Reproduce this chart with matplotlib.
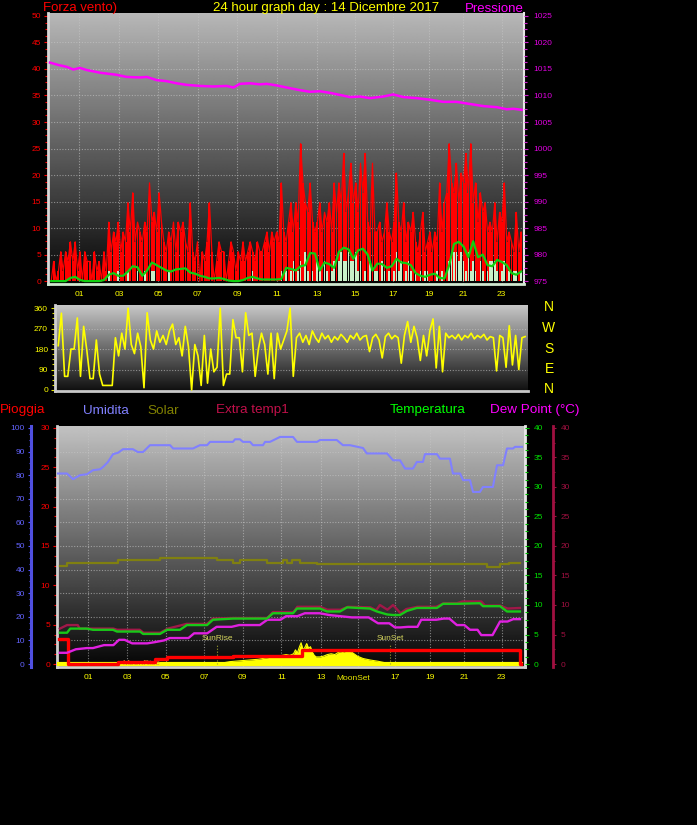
import numpy as np
import matplotlib
matplotlib.use('Agg')
import matplotlib.pyplot as plt
from matplotlib.ticker import MultipleLocator
import matplotlib.transforms as mtransforms

plt.rcParams['font.family'] = ['Liberation Sans', 'DejaVu Sans']

# ---------------------------------------------------------------- data
KN_TO_KMH = 1.852

HOUR_TICKS = [0.95, 3.05, 5.08, 7.14, 9.19, 11.25, 13.38, 15.33, 17.33, 19.19, 20.99, 22.98]
HOUR_LABELS = ['01', '03', '05', '07', '09', '11', '13', '15', '17', '19', '21', '23']
HOUR_LABELS_BOTTOM = ['01', '03', '05', '07', '09', '11', '13', '', '17', '19', '21', '23']

# wind gust (knots), 8 samples per hour starting at -0.5 h
GUST_KN = [
    0, 2, 0, 1, 3, 1, 3, 2,
    4, 2, 4, 1, 3, 0, 3, 2,
    2, 0, 3, 1, 2, 0, 3, 1,
    6, 3, 5, 4, 6, 3, 5, 4,
    8, 5, 9, 4, 6, 5, 4, 6,
    5, 10, 6, 7, 5, 9, 6, 4,
    3, 5, 4, 6, 3, 6, 5, 6,
    4, 3, 8, 3, 2, 4, 0, 3,
    2, 4, 8, 3, 0, 2, 4, 3,
    3, 0, 2, 4, 3, 1, 3, 2,
    4, 2, 3, 4, 3, 2, 4, 3,
    3, 4, 5, 3, 5, 4, 5, 4,
    10, 5, 4, 6, 8, 5, 8, 6,
    14, 10, 8, 7, 10, 6, 5, 6,
    8, 5, 7, 6, 8, 5, 10, 7,
    10, 8, 13, 7, 9, 12, 8, 10,
    7, 12, 9, 13, 6, 5, 12, 5,
    5, 6, 4, 5, 8, 5, 4, 6,
    11, 6, 5, 8, 4, 6, 5, 7,
    4, 3, 5, 7, 3, 4, 5, 3,
    5, 4, 10, 5, 8, 9, 14, 10,
    9, 12, 8, 11, 10, 13, 9, 14,
    8, 10, 6, 9, 7, 8, 5, 6,
    5, 8, 4, 7, 6, 10, 4, 5,
    4, 3, 7, 3, 5]

# wind speed (knots), same sampling
SPEED_KN = [
    0, 0, 0, 0, 0, 0, 0, 0,
    0, 0, 0, 0, 0, 0, 0, 0,
    0, 0, 0, 0, 0, 0, 0, 0,
    1, 0, 0, 0, 1, 0, 0, 0,
    1, 0, 0, 0, 1, 0, 0, 1,
    0, 0, 1, 1, 0, 0, 0, 0,
    0, 1, 0, 0, 0, 0, 0, 0,
    0, 0, 0, 0, 0, 0, 0, 0,
    0, 0, 0, 0, 0, 0, 0, 0,
    0, 0, 0, 0, 0, 0, 0, 0,
    0, 0, 0, 0, 1, 0, 0, 0,
    0, 0, 0, 0, 0, 0, 0, 0,
    1, 0, 1, 0, 1, 2, 0, 1,
    2, 0, 3, 1, 0, 1, 0, 2,
    1, 0, 2, 1, 0, 1, 2, 0,
    2, 3, 2, 2, 3, 2, 2, 3,
    1, 2, 0, 1, 0, 2, 0, 1,
    1, 0, 2, 1, 0, 1, 0, 1,
    3, 1, 2, 0, 1, 2, 1, 0,
    1, 0, 1, 0, 1, 1, 0, 0,
    0, 1, 0, 1, 0, 0, 2, 3,
    3, 3, 2, 3, 2, 1, 3, 1,
    2, 1, 0, 2, 1, 0, 1, 2,
    2, 2, 1, 0, 1, 2, 0, 1,
    0, 1, 1, 0, 1]

# average wind (km/h), 4 samples per hour starting at -0.5 h
AVG_KMH = [
    0, 0, 0, 0, 0.6, 0.8, 0.2, 0, 0, 0,
    0, 0.2, 1.2, 1.5, 1.0, 1.0, 1.8, 2.8, 2.6, 1.0,
    2.0, 3.5, 3.0, 2.5, 2.0, 1.8, 2.2, 2.3, 2.4, 1.6,
    1.4, 1.0, 0.8, 0.5, 0.5, 0.6, 0.4, 0.1, 0, 0,
    0.2, 0.6, 0.8, 0.5, 0.3, 0.3, 0.3, 0.3, 0.4, 2.5,
    2.3, 2.0, 2.8, 3.0, 5.3, 5.2, 2.0, 3.5, 3.2, 2.5,
    5.5, 6.3, 6.0, 4.2, 5.8, 6.1, 5.0, 2.0, 3.3, 3.2,
    2.5, 2.8, 4.2, 3.5, 3.4, 3.0, 1.5, 1.0, 0.8, 1.2,
    1.4, 0.6, 0.5, 3.0, 7.0, 7.4, 6.5, 4.5, 7.5, 4.5,
    5.0, 3.0, 2.8, 4.0, 3.6, 3.0, 1.5, 1.2, 1.8]

PRESS_HOURS = [-0.56, -0.13, 0.31, 0.65, 1.0, 1.35, 2.04, 2.91, 3.43, 4.13,
               4.48, 5.0, 5.52, 6.04, 6.56, 7.26, 7.95, 8.65, 9.0, 9.34,
               9.86, 10.38, 10.73, 11.25, 11.78, 12.47, 12.99, 13.51, 14.03, 14.56,
               15.08, 15.6, 16.12, 16.81, 17.33, 17.86, 18.55, 19.25, 19.94, 20.64,
               21.33, 22.03, 22.72, 23.25, 23.59, 24.03]
PRESS_HPA = [1016.2, 1015.75, 1015.4, 1014.9, 1015.2, 1014.8, 1014.3, 1013.9, 1013.5, 1013.4,
             1013.5, 1012.9, 1012.7, 1012.3, 1012.0, 1011.8, 1011.7, 1011.8, 1011.5, 1012.2,
             1012.3, 1012.1, 1012.2, 1011.9, 1011.5, 1011.0, 1010.7, 1010.8, 1010.5, 1010.1,
             1009.7, 1009.8, 1009.5, 1009.8, 1010.2, 1009.7, 1009.5, 1009.2, 1008.8, 1008.8,
             1008.4, 1008.0, 1007.8, 1007.4, 1007.5, 1007.3]

# wind direction (degrees), 6 samples per hour starting at -0.5 h
DIR_DEG = [
    195, 338, 60, 60, 180, 180,
    317, 60, 280, 175, 50, 50,
    220, 70, 20, 20, 20, 20,
    230, 150, 250, 180, 360, 200,
    160, 250, 190, 10, 340, 220,
    180, 260, 210, 240, 200, 260,
    290, 200, 230, 150, 280, 190,
    0, 200, 150, 20, 240, 30,
    180, 80, 100, 360, 20, 70,
    70, 310, 230, 230, 80, 340,
    240, 250, 60, 180, 250, 200,
    70, 250, 50, 250, 180, 220,
    260, 360, 60, 230, 250, 210,
    240, 200, 260, 230, 210, 250,
    225, 240, 210, 235, 220, 245,
    230, 210, 240, 225, 250, 220,
    235, 240, 169, 230, 245, 220,
    141, 235, 250, 225, 240, 230,
    118, 240, 301, 210, 280, 230,
    130, 240, 150, 260, 313, 97,
    280, 80, 250, 230, 240, 225,
    245, 220, 240, 230, 250, 225,
    240, 230, 245, 220, 235, 230,
    84, 240, 230, 100, 283, 110,
    240, 90, 230, 235]

HUM_HOURS = [-0.65, -0.17, 0.15, 0.52, 0.89, 1.21, 1.59, 1.75, 2.0, 2.28,
             2.55, 2.81, 3.34, 3.6, 3.88, 4.25, 5.32, 5.48, 6.54, 6.91,
             7.29, 7.45, 8.67, 8.78, 9.04, 9.2, 9.58, 9.74, 10.27, 10.38,
             10.64, 11.18, 11.87, 12.08, 13.15, 13.31, 14.2, 14.53, 14.9, 15.6,
             15.8, 16.88, 17.2, 17.57, 17.84, 18.26, 18.47, 18.79, 18.9, 19.54,
             19.7, 20.23, 20.39, 20.77, 20.93, 21.3, 21.46, 21.83, 21.99, 22.52,
             22.74, 23.06, 23.27, 23.59, 23.7, 24.07]
HUM_PCT = [80.7, 80.7, 78.3, 80.0, 80.4, 82.1, 82.5, 83.5, 85.5, 88.9,
           89.5, 91, 91, 89.8, 89.8, 92.7, 92.7, 91.3, 91.3, 92.7,
           92.7, 94.1, 94.1, 95.2, 95.2, 94.1, 94.1, 92.7, 92.7, 94.1,
           94.1, 96.2, 96.2, 94.1, 94.1, 94.9, 94.9, 92.7, 92.7, 91.5,
           89.2, 89.2, 86.3, 86.3, 82.8, 82.8, 85.6, 85.6, 88.9, 88.9,
           87, 87, 80.7, 80.7, 77.9, 77.9, 72.9, 72.9, 75, 75,
           84.2, 84.2, 91.3, 91.3, 92, 92]

TEMP_HOURS = [-0.55, -0.17, 0.0, 0.89, 1.21, 2.28, 2.49, 3.72, 3.88, 4.78,
              5.16, 5.85, 6.22, 7.29, 7.6, 8.67, 10.48, 10.8, 11.87, 12.08,
              13.31, 13.68, 14.37, 14.75, 15.97, 16.34, 16.88, 17.2, 17.57, 17.94,
              18.47, 19.54, 19.86, 20.6, 21.83, 21.99, 22.9, 23.27, 23.96]
TEMP_C = [5.3, 5.3, 6.0, 6.0, 5.8, 5.8, 5.5, 5.5, 5.1, 5.1,
          5.8, 5.8, 6.6, 6.6, 7.5, 7.7, 7.7, 8.6, 8.6, 9.4,
          9.4, 8.9, 8.9, 9.6, 9.4, 8.9, 8.4, 8.3, 8.3, 9.0,
          9.5, 9.5, 10.2, 10.2, 10.3, 9.8, 9.8, 8.9, 8.9]

EXTRA_HOURS = [-0.55, -0.17, 0.4, 0.5, 2.3, 2.5, 3.7, 3.9, 4.8, 5.2,
               6.2, 7.3, 7.6, 8.7, 10.5, 10.8, 11.9, 12.1, 13.3, 13.7,
               14.4, 14.8, 16.0, 16.3, 16.5, 16.9, 17.2, 17.6, 17.9, 18.5,
               19.5, 19.9, 20.6, 20.9, 21.9, 22.1, 22.9, 23.3, 23.96]
EXTRA_C = [6.0, 6.6, 6.6, 6.0, 6.0, 5.8, 5.8, 5.3, 5.3, 6.0,
           6.8, 6.8, 7.7, 7.8, 7.8, 8.8, 8.8, 9.7, 9.7, 9.2,
           9.2, 9.7, 9.6, 9.1, 10.0, 9.2, 10.0, 8.6, 9.3, 9.7,
           9.7, 10.3, 10.3, 10.6, 10.6, 9.9, 9.9, 9.4, 9.5]

DEW_HOURS = [-0.55, -0.17, 0.3, 0.89, 1.21, 1.8, 2.3, 2.6, 2.9, 3.3,
             4.1, 4.5, 5.0, 5.3, 6.3, 6.6, 7.3, 7.8, 8.6, 9.0,
             10.1, 10.5, 11.2, 11.5, 12.1, 12.5, 13.3, 13.8, 14.4, 15.0,
             15.9, 16.4, 17.0, 17.3, 17.6, 18.0, 18.5, 18.7, 19.5, 19.9,
             20.2, 20.6, 21.0, 21.3, 21.7, 21.9, 22.5, 22.9, 23.3, 23.6, 23.96]
DEW_C = [1.9, 1.9, 2.5, 2.7, 2.7, 3.2, 3.2, 4.1, 4.1, 3.5,
         3.5, 3.7, 4.0, 4.4, 4.4, 5.2, 5.2, 6.3, 6.3, 6.6,
         6.6, 7.5, 7.5, 8.1, 8.1, 8.6, 8.6, 8.3, 8.1, 7.9,
         7.9, 6.9, 6.9, 6.2, 6.2, 6.3, 6.3, 7.5, 7.5, 7.7,
         7.7, 6.6, 6.6, 5.8, 5.8, 4.9, 4.9, 7.2, 7.2, 7.6, 7.6]

SOLARLINE_HOURS = [-0.55, -0.17, 0.89, 2.55, 4.78, 7.82, 8.67, 9.04, 10.48, 11.34,
                   11.55, 11.8, 12.24, 13.15, 22.2, 22.9, 23.4, 23.96]
SOLARLINE_VAL = [41.5, 42.6, 43.0, 44.0, 45.0, 44.0, 43.0, 44.0, 43.0, 44.0,
                 43.0, 44.0, 43.0, 42.2, 41.2, 42.2, 42.9, 42.9]

RAIN_HOURS = [-0.6, -0.12, 2.55, 4.52, 5.16, 8.67, 12.35, 23.96, 24.0]
RAIN_MM = [3.2, 0.0, 0.3, 0.6, 0.85, 1.06, 1.8, 0.0, 0.0]

SUN_HOURS = [-0.6, 7.8, 8.5, 9.0, 9.5, 10.0, 10.5, 11.0, 11.3, 11.5,
             11.7, 11.9, 12.0, 12.1, 12.2, 12.3, 12.4, 12.5, 12.6, 12.7,
             12.8, 12.9, 13.0, 13.1, 13.3, 13.5, 13.7, 13.9, 14.1, 14.3,
             14.5, 14.6, 14.7, 14.8, 15.0, 15.3, 15.6, 16.0, 16.4, 16.7,
             17.0, 24.0]
SUN_VAL = [0, 0, 0.3, 0.4, 0.5, 0.6, 0.8, 1.0, 1.1, 1.2,
           1.1, 1.3, 1.8, 1.4, 2.1, 2.7, 1.8, 2.1, 2.6, 2.0,
           2.2, 1.5, 1.1, 0.9, 0.9, 1.0, 1.2, 1.3, 1.2, 1.5,
           1.6, 1.5, 1.8, 1.7, 1.5, 1.0, 0.7, 0.5, 0.35, 0.2,
           0, 0]

SUNRISE_H, SUNSET_H = 7.82, 17.04
MOONRISE_H, MOONSET_H = 3.77, 15.09

# ---------------------------------------------------------------- figure
W, H = 697, 825
fig = plt.figure(figsize=(W / 100, H / 100), dpi=100, facecolor='black')


def add_axes_px(left, top, right, bottom):
    return fig.add_axes([left / W, 1 - bottom / H, (right - left) / W, (bottom - top) / H])


def gradient(ax, top, bot):
    g = np.linspace(top, bot, 256).reshape(-1, 1)
    x0, x1 = ax.get_xlim()
    y0, y1 = ax.get_ylim()
    ax.imshow(g, extent=(x0, x1, y0, y1), origin='upper', cmap='gray', vmin=0, vmax=1,
              aspect='auto', zorder=0, interpolation='bilinear')
    ax.set_xlim(x0, x1)
    ax.set_ylim(y0, y1)


def hide_spines(ax):
    for s in ax.spines.values():
        s.set_visible(False)


def figtext(px, py, s, color, size, ha='left'):
    fig.text(px / W, 1 - py / H, s, color=color, fontsize=size, ha=ha, va='baseline')


GRID_KW = dict(color='#c8c8c8', lw=0.8, ls=(0, (1, 1.5)), alpha=0.6, zorder=1)
TICK_SIZE = 6

# ---------------- panel 1 : wind + pressure
ax1 = add_axes_px(48, 13.3, 524, 284)
ax1.set_facecolor('black')
ax1.set_xlim(-0.668, 24.15)
ax1.set_ylim(-0.55, 50.5)
gradient(ax1, 0.72, 0.02)
for x in HOUR_TICKS:
    ax1.axvline(x, **GRID_KW)
for y in range(5, 50, 5):
    ax1.axhline(y, **GRID_KW)

t_g = -0.5 + 0.125 * np.arange(len(GUST_KN))
gust = np.array(GUST_KN) * KN_TO_KMH
speed = np.array(SPEED_KN) * KN_TO_KMH
ax1.bar(t_g, gust, width=0.1, color='#ff0000', lw=0, zorder=3)
ax1.plot(t_g, gust, color='#ff0000', lw=0.9, zorder=3)
ax1.bar(t_g, speed, width=0.09, color='#c8f0c8', lw=0, zorder=4)
t_a = -0.5 + 0.25 * np.arange(len(AVG_KMH))
ax1.plot(t_a, AVG_KMH, color='#10d010', lw=1.6, zorder=5)

ax1.yaxis.set_major_locator(MultipleLocator(5))
ax1.yaxis.set_minor_locator(MultipleLocator(1.25))
ax1.tick_params(axis='y', which='both', colors='#ff0000', labelsize=TICK_SIZE, pad=2, width=0.8)
ax1.tick_params(axis='y', which='major', length=3)
ax1.tick_params(axis='y', which='minor', length=2)
ax1.set_xticks(HOUR_TICKS, HOUR_LABELS)
ax1.tick_params(axis='x', length=0, pad=5, labelcolor='#ffff00', labelsize=TICK_SIZE)

ax1p = ax1.twinx()
ax1p.set_ylim(975 - 0.55, 975 + 50.5)
ax1p.plot(PRESS_HOURS, PRESS_HPA, color='#ff00ff', lw=1.8, zorder=6)
ax1p.yaxis.set_major_locator(MultipleLocator(5))
ax1p.yaxis.set_minor_locator(MultipleLocator(1.25))
ax1p.tick_params(axis='y', which='both', colors='#d020d0', labelcolor='#e000e0',
                 labelsize=TICK_SIZE, pad=4, width=0.8)
ax1p.tick_params(axis='y', which='major', length=3)
ax1p.tick_params(axis='y', which='minor', length=2)

hide_spines(ax1)
hide_spines(ax1p)
ax1.spines['left'].set_visible(True)
ax1.spines['left'].set_color('#d8d8d8')
ax1.spines['left'].set_linewidth(2)
ax1.spines['bottom'].set_visible(True)
ax1.spines['bottom'].set_color('#d0e8d0')
ax1.spines['bottom'].set_linewidth(2)
ax1.spines['right'].set_visible(True)
ax1.spines['right'].set_color('#e8e8e8')
ax1.spines['right'].set_linewidth(1.5)

figtext(43, 11.5, 'Forza vento)', '#ff0000', 9.5)
figtext(326, 11.5, '24 hour graph day : 14 Dicembre 2017', '#ffff00', 9.5, ha='center')
figtext(465, 11.5, 'Pressione', '#ff00ff', 9.5)

# ---------------- panel 2 : wind direction
ax2 = add_axes_px(55, 305, 528, 391)
ax2.set_facecolor('black')
ax2.set_xlim(-0.67, 24.15)
ax2.set_ylim(-4.5, 374)
gradient(ax2, 0.78, 0.06)
for y in (90, 180, 270):
    ax2.axhline(y, **GRID_KW)
t_d = -0.5 + np.arange(len(DIR_DEG)) / 6
ax2.plot(t_d, DIR_DEG, color='#ffff00', lw=1.2, zorder=3)
ax2.set_yticks([0, 90, 180, 270, 360])
ax2.yaxis.set_minor_locator(MultipleLocator(22.5))
ax2.tick_params(axis='y', which='both', colors='#e0e000', labelcolor='#ffff00',
                labelsize=TICK_SIZE, pad=2, width=0.8)
ax2.tick_params(axis='y', which='major', length=3)
ax2.tick_params(axis='y', which='minor', length=2)
ax2.set_xticks([])
hide_spines(ax2)
ax2.spines['left'].set_visible(True)
ax2.spines['left'].set_color('#d0d0d0')
ax2.spines['left'].set_linewidth(2)
ax2.spines['bottom'].set_visible(True)
ax2.spines['bottom'].set_color('#c8c8c8')
ax2.spines['bottom'].set_linewidth(2)

for letter, base in zip(['N', 'W', 'S', 'E', 'N'], [311, 332, 353, 373.5, 393]):
    figtext(549, base, letter, '#ffff00', 10, ha='center')

# ---------------- panel 3 : rain / humidity / temperatures
ax3 = add_axes_px(57, 426, 525, 667)
ax3.set_facecolor('black')
ax3.set_xlim(-0.705, 24.23)
ax3.set_ylim(-0.38, 30.25)
gradient(ax3, 0.76, 0.02)
for x in HOUR_TICKS:
    ax3.axvline(x, **GRID_KW)
for y in range(3, 30, 3):
    ax3.axhline(y, **GRID_KW)

# solar radiation area + baseline
ax3.fill_between(SUN_HOURS, 0, SUN_VAL, color='#ffff00', lw=0, zorder=3)
ax3.plot(SUN_HOURS, SUN_VAL, color='#ffff00', lw=0.8, zorder=3)
ax3.plot([SUN_HOURS[0], SUN_HOURS[-1]], [0, 0], color='#ffff00', lw=3, zorder=3)
# sunrise / sunset markers
for h, lab in ((SUNRISE_H, 'SunRise'), (SUNSET_H, 'SunSet')):
    ax3.plot([h, h], [0, 2.6], color='#a0a030', lw=0.8, ls=':', zorder=4)
    ax3.text(h, 3.05, lab, color='#d8d860', fontsize=6, ha='center', va='baseline', zorder=4)
ax3.text(MOONRISE_H, -0.15, 'MoonRise', color='#e09020', fontsize=6, ha='center',
         va='baseline', zorder=4)
# rain
ax3.plot(RAIN_HOURS, RAIN_MM, drawstyle='steps-post', color='#ff0000', lw=2.4, zorder=5)
trans = mtransforms.blended_transform_factory(ax3.transData, ax3.transAxes)
ax3.text(MOONSET_H, -13 / 241, 'MoonSet', color='#e8e800', fontsize=6, ha='center',
         va='baseline', transform=trans, clip_on=False)

ax3.yaxis.set_major_locator(MultipleLocator(5))
ax3.yaxis.set_minor_locator(MultipleLocator(1.25))
ax3.tick_params(axis='y', which='both', colors='#ff0000', labelsize=TICK_SIZE, pad=2, width=0.8)
ax3.tick_params(axis='y', which='major', length=3)
ax3.tick_params(axis='y', which='minor', length=2)
ax3.set_xticks(HOUR_TICKS, HOUR_LABELS_BOTTOM)
ax3.tick_params(axis='x', length=0, pad=5, labelcolor='#ffff00', labelsize=TICK_SIZE)

# humidity axis (far left)
ax3h = ax3.twinx()
ax3h.set_ylim(-1.267, 100.83)
ax3h.plot(HUM_HOURS, HUM_PCT, color='#8080ff', lw=1.5, zorder=3)
ax3h.plot(SOLARLINE_HOURS, SOLARLINE_VAL, drawstyle='steps-post', color='#808010', lw=1.6, zorder=3)
ax3h.yaxis.set_ticks_position('left')
ax3h.yaxis.set_label_position('left')
ax3h.yaxis.set_major_locator(MultipleLocator(10))
ax3h.yaxis.set_minor_locator(MultipleLocator(2.5))
ax3h.tick_params(axis='y', which='both', colors='#5050ff', labelcolor='#6464ff',
                 labelsize=TICK_SIZE, pad=2, width=0.8)
ax3h.tick_params(axis='y', which='major', length=2.5)
ax3h.tick_params(axis='y', which='minor', length=1.5)

# dew point axis (far right)
ax3d = ax3.twinx()
ax3d.set_ylim(-0.507, 40.33)
ax3d.plot(DEW_HOURS, DEW_C, color='#e020e0', lw=1.7, zorder=3)
ax3d.yaxis.set_major_locator(MultipleLocator(5))
ax3d.yaxis.set_minor_locator(MultipleLocator(2.5))
ax3d.tick_params(axis='y', which='both', colors='#a01040', labelcolor='#a01040',
                 labelsize=TICK_SIZE, pad=3, width=0.8)
ax3d.tick_params(axis='y', which='major', length=2.5)
ax3d.tick_params(axis='y', which='minor', length=1.5)

# temperature axis (right)
ax3t = ax3.twinx()
ax3t.set_ylim(-0.507, 40.33)
ax3t.plot(EXTRA_HOURS, EXTRA_C, color='#a01848', lw=1.7, zorder=3)
ax3t.plot(TEMP_HOURS, TEMP_C, color='#18c818', lw=1.7, zorder=4)
ax3t.yaxis.set_major_locator(MultipleLocator(5))
ax3t.yaxis.set_minor_locator(MultipleLocator(1.25))
ax3t.tick_params(axis='y', which='both', colors='#00c000', labelcolor='#00e000',
                 labelsize=TICK_SIZE, pad=3, width=0.8)
ax3t.tick_params(axis='y', which='major', length=3)
ax3t.tick_params(axis='y', which='minor', length=2)

for a in (ax3, ax3h, ax3d, ax3t):
    hide_spines(a)
ax3.spines['left'].set_visible(True)
ax3.spines['left'].set_color('#d0d0d0')
ax3.spines['left'].set_linewidth(2)
ax3.spines['bottom'].set_visible(True)
ax3.spines['bottom'].set_color('#d0d0d0')
ax3.spines['bottom'].set_linewidth(2)
ax3.spines['right'].set_visible(True)
ax3.spines['right'].set_color('#e8e8e8')
ax3.spines['right'].set_linewidth(2)
ax3h.spines['left'].set_visible(True)
ax3h.spines['left'].set_position(('outward', 18.7))
ax3h.spines['left'].set_color('#5050e0')
ax3h.spines['left'].set_linewidth(2.2)
ax3d.spines['right'].set_visible(True)
ax3d.spines['right'].set_position(('outward', 20.2))
ax3d.spines['right'].set_color('#a01040')
ax3d.spines['right'].set_linewidth(2)

figtext(0, 413.5, 'Pioggia', '#ff0000', 9.7)
figtext(83, 413.5, 'Umidita', '#8080ff', 9.7)
figtext(147, 413.5, 'Solar', '#808000', 9.7)
figtext(216, 413.5, 'Extra temp1', '#c0104a', 9.7)
figtext(390, 413.5, 'Temperatura', '#00ff00', 9.7)
figtext(490, 413.5, 'Dew Point (°C)', '#ff00ff', 9.7)

fig.savefig('out.png', dpi=100, facecolor='black')
